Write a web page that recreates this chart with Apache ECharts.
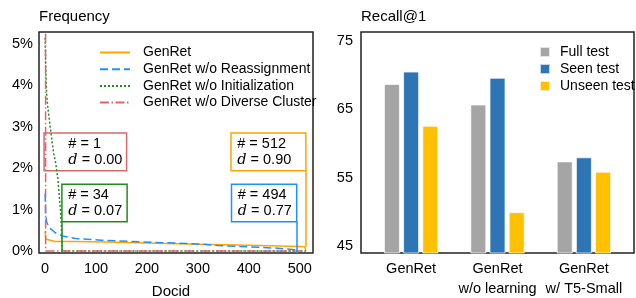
<!DOCTYPE html>
<html lang="en">
<head>
    <meta charset="UTF-8">
    <title>Docid frequency / Recall@1</title>
    <script src="https://cdn.jsdelivr.net/npm/echarts@6/dist/echarts.min.js"></script>
    <style>
        html, body { margin: 0; padding: 0; background: #fff; }
    </style>
</head>
<body>
<div id="main" style="width: 636px;height:298px;"></div>
<script type="text/javascript">
    var myChart = echarts.init(document.getElementById("main"));

    // left: docid frequency (docid, %)
    var genret = [[0, 0.48], [1, 0.34], [2, 0.28], [5, 0.24], [20, 0.23], [60, 0.225], [120, 0.215],
        [200, 0.19], [300, 0.16], [400, 0.135], [500, 0.11], [510, 0.1], [512, 0]];
    var noReassign = [[0, 1.39], [1, 0.9], [3, 0.7], [8, 0.56], [20, 0.44], [34, 0.36], [60, 0.3],
        [110, 0.26], [230, 0.2], [300, 0.17], [340, 0.13], [400, 0.1], [450, 0.07], [490, 0.03], [494, 0]];
    var noInit = [[0, 5.15], [1, 4.5], [2, 4.1], [3, 3.8], [5, 3.5], [8, 3.2], [11, 2.9], [14, 2.6],
        [17, 2.35], [21, 2.1], [25, 1.75], [28, 1.3], [30, 1.0], [32, 0.6], [33, 0.3], [34, 0], [512, 0]];
    var noDiverse = [[0, 100], [1, 0], [512, 0]];

    var docidTicks = [0, 100, 200, 300, 400, 500];
    var freqTicks = [0, 1, 2, 3, 4, 5];

    // annotation boxes: used docids and d
    var usedNum = [1, 34, 494, 512];
    var dValue = ["0.00", "0.07", "0.77", "0.90"];

    // right: recall@1
    var groups = ["GenRet", "GenRet\nw/o learning", "GenRet\nw/ T5-Small"];
    var groupPos = [0, 1, 2];
    var fullTest = [68.7, 65.7, 57.4];
    var seenTest = [70.5, 69.6, 58.0];
    var unseenTest = [62.6, 50.0, 55.9];
    var recallTicks = [45, 55, 65, 75];

    var font = "Liberation Sans, Arial, sans-serif";
    var cRed = "#d9686b", cGreen = "#228b22", cBlue = "#1e90ff", cOrange = "#ffa500";

    function boxLabel(i, dist) {
        return {
            show: true,
            position: "insideLeft",
            distance: dist,
            color: "#000",
            fontFamily: font,
            fontSize: 14.5,
            lineHeight: 16.5,
            formatter: "# = " + usedNum[i] + "\n{d|d} = " + dValue[i],
            rich: {d: {fontFamily: "DejaVu Serif", fontStyle: "italic", fontSize: 14.5, color: "#000"}}
        };
    }
    function box(i, x1, y1, x2, y2, color, dist) {
        return {
            silent: true,
            itemStyle: {color: "rgba(0,0,0,0)", borderColor: color, borderWidth: 1.5},
            data: [[{coord: [x1, y1], label: boxLabel(i, dist)}, {coord: [x2, y2]}]]
        };
    }
    function leg(x, y0, y1, color) {
        return {
            silent: true,
            symbol: ["none", "none"],
            label: {show: false},
            lineStyle: {type: "solid", color: color, width: 1.5},
            data: [[{coord: [x, y0]}, {coord: [x, y1]}]]
        };
    }
    function bars(name, values, k, color) {
        return {
            name: name,
            type: "bar",
            xAxisIndex: 1,
            yAxisIndex: 1,
            barWidth: 16,
            barGap: "-100%",
            itemStyle: {color: color, borderColor: "rgba(255,255,255,0.7)", borderWidth: 1},
            data: values.map(function (v, i) { return [groupPos[i] + (k - 1) * 0.222, v]; })
        };
    }

    var option = {
        animation: false,
        textStyle: {fontFamily: font, color: "#000"},
        title: [
            {text: "Frequency", left: 39, top: 9, padding: 0,
                textStyle: {fontSize: 15, fontWeight: "normal", color: "#000", fontFamily: font}},
            {text: "Recall@1", left: 361, top: 9, padding: 0,
                textStyle: {fontSize: 15, fontWeight: "normal", color: "#000", fontFamily: font}}
        ],
        grid: [
            {left: 39, right: 323, top: 32, bottom: 45, outerBoundsMode: "none",
                show: true, borderColor: "#222", borderWidth: 1.5},
            {left: 361, right: 2, top: 32, bottom: 45, outerBoundsMode: "none",
                show: true, borderColor: "#222", borderWidth: 1.5}
        ],
        legend: [
            {
                orient: "vertical", left: 94, top: 40.5, itemWidth: 30, itemHeight: 14, itemGap: 2.7,
                itemStyle: {opacity: 0},
                textStyle: {fontSize: 14, color: "#000", padding: [0, 0, 0, 8]},
                data: ["GenRet", "GenRet w/o Reassignment", "GenRet w/o Initialization", "GenRet w/o Diverse Cluster"]
            },
            {
                orient: "vertical", left: 534, top: 38.5, itemWidth: 10, itemHeight: 10, itemGap: 0, icon: "rect",
                textStyle: {fontSize: 14, color: "#000", lineHeight: 17, padding: [0, 0, 0, 5]},
                data: ["Full test", "Seen test", "Unseen test"]
            }
        ],
        xAxis: [
            {
                type: "value", gridIndex: 0, min: -12, max: 526,
                axisLine: {show: false}, axisTick: {show: false}, splitLine: {show: false},
                axisLabel: {customValues: docidTicks, fontSize: 14.5, color: "#000", margin: 8},
                name: "Docid", nameLocation: "middle", nameGap: 31,
                nameTextStyle: {fontSize: 15, color: "#000", padding: [0, 10, 0, 0]}
            },
            {
                type: "value", gridIndex: 1, min: -0.58, max: 2.58,
                axisLine: {show: false}, axisTick: {show: false}, splitLine: {show: false},
                axisLabel: {
                    customValues: groupPos, fontSize: 14.5, color: "#000", margin: 6, lineHeight: 20,
                    formatter: function (v) { return groups[Math.round(v)]; }
                }
            }
        ],
        yAxis: [
            {
                type: "value", gridIndex: 0, min: -0.05, max: 5.29,
                axisLine: {show: false}, axisTick: {show: false}, splitLine: {show: false},
                axisLabel: {customValues: freqTicks, formatter: "{value}%", fontSize: 14.5, color: "#000", margin: 6}
            },
            {
                type: "value", gridIndex: 1, min: 44.04, max: 76.27,
                axisLine: {show: false}, axisTick: {show: false}, splitLine: {show: false},
                axisLabel: {customValues: recallTicks, fontSize: 14.5, color: "#000", margin: 8}
            }
        ],
        series: [
            {
                name: "GenRet", type: "line", symbol: "none", data: genret,
                lineStyle: {color: cOrange, width: 1.5}, itemStyle: {color: cOrange},
                markArea: box(3, 365, 2.85, 512, 1.94, cOrange, 7),
                markLine: leg(512, 0.1, 1.94, cOrange)
            },
            {
                name: "GenRet w/o Reassignment", type: "line", symbol: "none", data: noReassign,
                lineStyle: {color: cBlue, width: 1.5, type: [8, 4]}, itemStyle: {color: cBlue},
                markArea: box(2, 366, 1.61, 494, 0.705, cBlue, 7),
                markLine: leg(494, -0.05, 0.705, cBlue)
            },
            {
                name: "GenRet w/o Initialization", type: "line", symbol: "none", data: noInit,
                lineStyle: {color: cGreen, width: 1.5, type: [2, 2]}, itemStyle: {color: cGreen},
                markArea: box(1, 33, 1.61, 161, 0.705, cGreen, 7),
                markLine: leg(33.5, -0.05, 0.705, cGreen)
            },
            {
                name: "GenRet w/o Diverse Cluster", type: "line", symbol: "none", data: noDiverse,
                lineStyle: {color: cRed, width: 1.5, type: [9, 2.5, 1.5, 2.5]}, itemStyle: {color: cRed},
                markArea: box(0, -2, 2.85, 160, 1.94, cRed, 25)
            },
            bars("Full test", fullTest, 0, "#a5a5a5"),
            bars("Seen test", seenTest, 1, "#2e75b6"),
            bars("Unseen test", unseenTest, 2, "#ffc000")
        ]
    };

    myChart.setOption(option);
</script>
</body>
</html>
